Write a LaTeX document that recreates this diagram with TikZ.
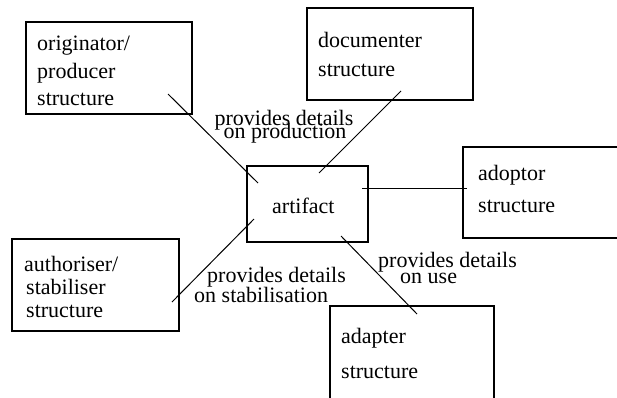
\documentclass[tikz,border=0pt]{standalone}
\usepackage{fontspec}
\setmainfont{Liberation Serif}
\begin{document}
\begin{tikzpicture}[x=1pt,y=-1pt,
  box/.style={draw, line width=1.2pt, inner sep=0pt, outer sep=0pt, anchor=north west},
  txt/.style={anchor=base west, inner sep=0pt, font=\fontsize{22}{22}\selectfont},
  lbl/.style={anchor=base, inner sep=0pt, font=\fontsize{22}{22}\selectfont},
  conn/.style={line width=1pt}]
\useasboundingbox (0,0) rectangle (617,397);
\clip (0,0) rectangle (617,397);
% boxes
\node[box, minimum width=166pt, minimum height=92pt] (orig) at (26,22) {};
\node[box, minimum width=166pt, minimum height=92pt] (doc) at (307,8) {};
\node[box, minimum width=121pt, minimum height=76pt] (art) at (247,166) {};
\node[box, minimum width=200pt, minimum height=91pt] (adop) at (463,147) {};
\node[box, minimum width=167pt, minimum height=92pt] (auth) at (12,239) {};
\node[box, minimum width=164pt, minimum height=150pt] (adap) at (330,306) {};
% box texts
\node[txt] (o1) at (37,50) {originator/};
\node[txt] (o2) at (37,78) {producer};
\node[txt] (o3) at (37,105) {structure};
\node[txt] (d1) at (318,47) {documenter};
\node[txt] (d2) at (318,76) {structure};
\node[txt] (a0) at (272,213) {artifact};
\node[txt] (p1) at (478,180) {adoptor};
\node[txt] (p2) at (478,212) {structure};
\node[txt] (u1) at (24,271) {authoriser/};
\node[txt] (u2) at (26,294) {stabiliser};
\node[txt] (u3) at (26,317) {structure};
\node[txt] (t1) at (341,343) {adapter};
\node[txt] (t2) at (341,378) {structure};
% labels
\node[lbl] (lp1) at (284,125) {provides details};
\node[lbl] (lp2) at (285,138) {on production};
\node[txt] (ls1) at (207,282) {provides details};
\node[txt] (ls2) at (194,302) {on stabilisation};
\node[txt] (lu1) at (378,267) {provides details};
\node[txt] (lu2) at (400,283) {on use};
% connector end points
\coordinate (co1) at (168,94);
\coordinate (co2) at (258,183);
\coordinate (cd1) at (401,91);
\coordinate (cd2) at (319,173);
\coordinate (cp1) at (362,188);
\coordinate (cp2) at (467,188);
\coordinate (cu1) at (172,302);
\coordinate (cu2) at (254,219);
\coordinate (ct1) at (341,236);
\coordinate (ct2) at (417,314);
\draw[conn] (co1) -- (co2);
\draw[conn] (cd1) -- (cd2);
\draw[conn] (cp1) -- (cp2);
\draw[conn] (cu1) -- (cu2);
\draw[conn] (ct1) -- (ct2);
\end{tikzpicture}
\end{document}
